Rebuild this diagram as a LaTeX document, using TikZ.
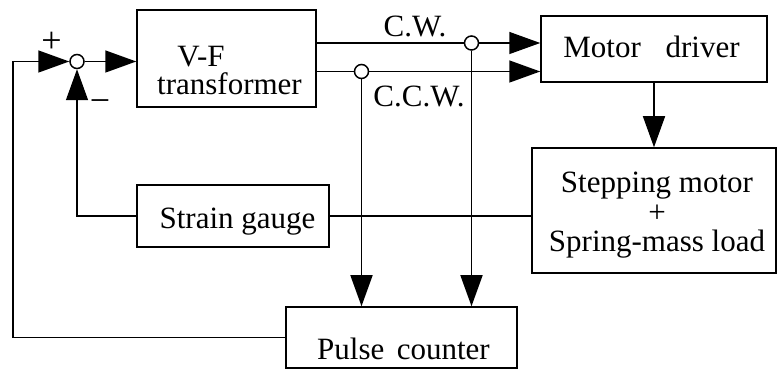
\documentclass[tikz,border=0pt]{standalone}
\usepackage{fontspec}
\setmainfont{Liberation Serif}
\usetikzlibrary{arrows.meta,calc}
\begin{document}
\begin{tikzpicture}[x=1pt,y=-1pt,
  line width=1.5pt,
  box/.style={draw,rectangle,inner sep=0pt},
  txt/.style={inner sep=0pt,anchor=base,font=\fontsize{31}{31}\selectfont},
  sgn/.style={inner sep=0pt,font=\fontsize{36}{36}\selectfont},
  junc/.style={draw,circle,fill=white,minimum size=14pt,inner sep=0pt},
  arr/.style={-{Triangle[length=31pt,width=22pt]}}]
\useasboundingbox (0,0) rectangle (777,371);
% boxes
\node[box,minimum width=179pt,minimum height=97pt] (vf) at (226.5,58.5) {};
\node[box,minimum width=226pt,minimum height=66pt] (md) at (654,49) {};
\node[box,minimum width=244pt,minimum height=125pt] (sm) at (654,210.5) {};
\node[box,minimum width=192pt,minimum height=62pt] (sg) at (233,216) {};
\node[box,minimum width=231pt,minimum height=61pt] (pc) at (401.5,337.5) {};
% texts
\node[txt] (vft1) at (201,67) {V-F};
\node[txt] (vft2) at (229.5,95) {transformer};
\node[txt] (mdt) at (651.5,58) {Motor\hspace{0.8em}driver};
\node[inner sep=0pt,align=center,font=\fontsize{31}{29.5}\selectfont] (smt) at (657,215.5) {Stepping motor\\+\\Spring-mass load};
\node[txt] (sgt) at (237.5,229) {Strain gauge};
\node[txt] (pct) at (403.5,360) {Pulse\hspace{0.4em}counter};
\node[txt] (cwl) at (415,37) {C.W.};
\node[txt] (ccwl) at (419,107) {C.C.W.};
\node[sgn] (plus) at (51.5,42.5) {+};
\node[sgn] (minus) at (100,106) {−};
% junctions
\node[junc] (sum) at (77,61.5) {};
\node[junc] (cw) at (471.5,43) {};
\node[junc] (ccw) at (361.5,71.5) {};
\coordinate (fbl) at (13,61.5);
% connectors
\draw[arr] (pc.west) -| (fbl) -- (sum.west);
\draw[arr] (sum.east) -- (sum.east -| vf.west);
\draw[arr] (sg.west) -| (sum.south);
\draw (sg.east) -- (sg.east -| sm.west);
\draw (vf.east |- cw) -- (cw);
\draw[arr] (cw) -- (cw -| md.west);
\draw[arr] (cw) -- (cw |- pc.north);
\draw (vf.east |- ccw) -- (ccw);
\draw[arr] (ccw) -- (ccw -| md.west);
\draw[arr] (ccw) -- (ccw |- pc.north);
\draw[arr] (md.south) -- (md.south |- sm.north);
\end{tikzpicture}
\end{document}
